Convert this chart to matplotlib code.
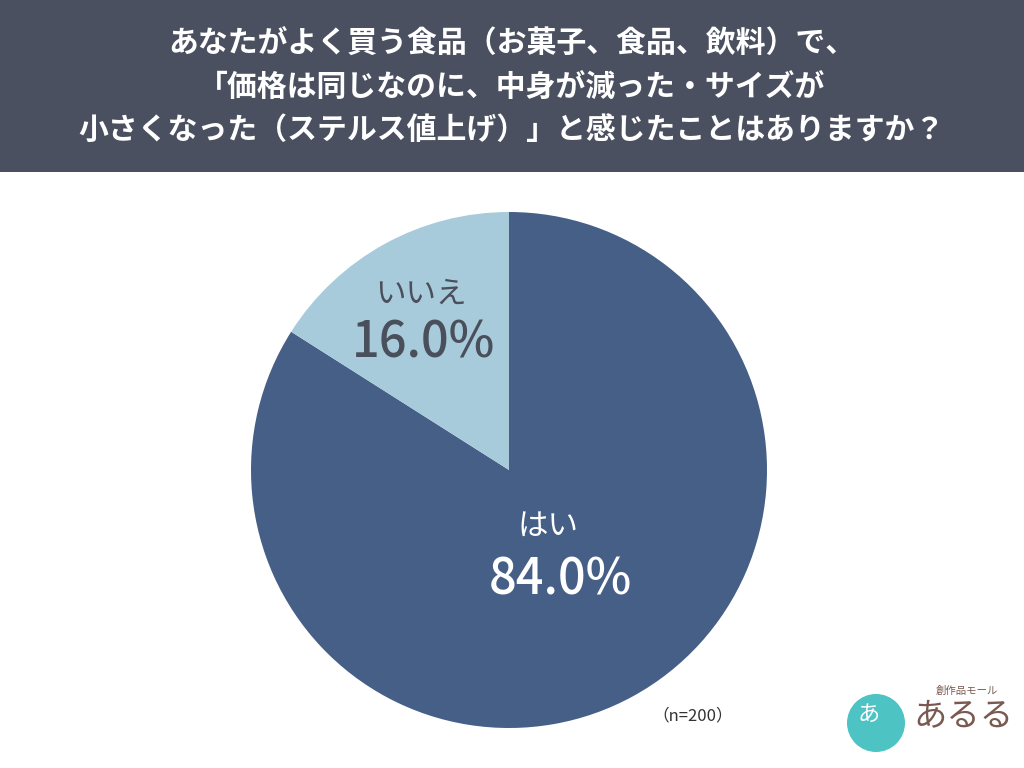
import matplotlib
matplotlib.use("Agg")
import matplotlib.pyplot as plt
from matplotlib.patches import Rectangle, Circle

plt.rcParams['font.family'] = ['Noto Sans CJK JP', 'DejaVu Sans']

title_lines = [
    "あなたがよく買う食品（お菓子、食品、飲料）で、",
    "「価格は同じなのに、中身が減った・サイズが",
    "小さくなった（ステルス値上げ）」と感じたことはありますか？",
]
categories = ["はい", "いいえ"]
values = [84.0, 16.0]
colors = ["#465f87", "#a8cbdc"]
label_colors = ["white", "#4a4f5c"]
note = "（n=200）"

fig = plt.figure(figsize=(10.24, 7.68), dpi=100)
fig.patch.set_facecolor("white")

# banner
fig.patches.append(Rectangle((0, 1 - 172 / 768), 1, 172 / 768, transform=fig.transFigure,
                             facecolor="#4b5060", edgecolor="none", zorder=0))
for i, line in enumerate(title_lines):
    fig.text(0.5, 1 - (44 + i * 43.5) / 768, line, ha="center", va="center",
             color="white", fontsize=21.5, fontweight="bold")

ax = fig.add_axes([251 / 1024, 40 / 768, 516 / 1024, 516 / 768])
wedges, _ = ax.pie(values, colors=colors, startangle=90, counterclock=False,
                   wedgeprops=dict(linewidth=0))
ax.set_aspect("equal")
ax.set_xlim(-1, 1)
ax.set_ylim(-1, 1)
ax.axis("off")

# label positions (in data coords of pie axes): (cat x, cat y, pct x, pct y)
pos = [(0.15, -0.22, 0.20, -0.43), (-0.34, 0.68, -0.33, 0.49)]
for (cx, cy, px, py), cat, v, c in zip(pos, categories, values, label_colors):
    ax.text(cx, cy, cat, ha="center", va="center", fontsize=22, color=c)
    ax.text(px, py, f"{v:.1f}%", ha="center", va="center", fontsize=35, color=c,
            fontweight="medium")

fig.text(693 / 1024, 1 - 716 / 768, note, ha="center", va="center", fontsize=12, color="#333333")

# logo approximation
logo_ax = fig.add_axes([845 / 1024, 0 / 768, 180 / 1024, 90 / 768])
logo_ax.set_xlim(0, 180)
logo_ax.set_ylim(0, 90)
logo_ax.set_aspect("equal")
logo_ax.axis("off")
logo_ax.add_patch(Circle((31, 45), 29, facecolor="#4dc3c3", edgecolor="none"))
logo_ax.text(24, 54, "あ", fontsize=16, color="white", ha="center", va="center")
logo_ax.text(122, 77, "創作品モール", fontsize=7.5, color="#7a5a50", ha="center", va="center")
logo_ax.text(118, 52, "あるる", fontsize=24, color="#7a5a50", ha="center", va="center")

fig.savefig("out.png", dpi=100)
